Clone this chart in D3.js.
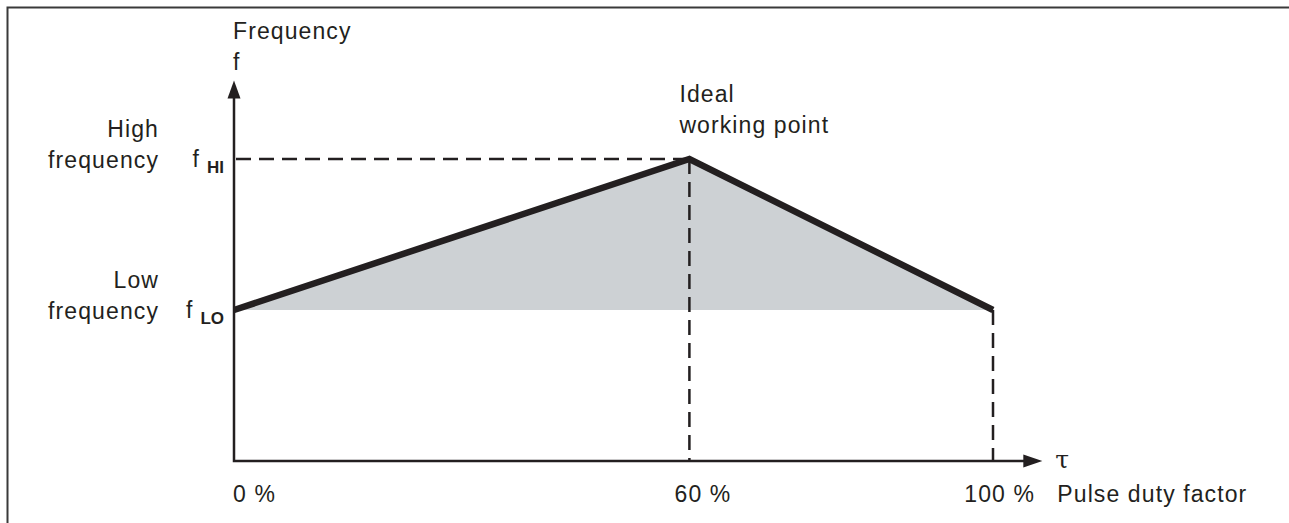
<!DOCTYPE html>
<html>
<head>
<meta charset="utf-8">
<script src="https://cdn.jsdelivr.net/npm/d3@7"></script>
<style>
  html, body { margin: 0; padding: 0; background: #fff; }
  svg text { font-family: "Liberation Sans", Arial, Helvetica, sans-serif; fill: #231f20; }
</style>
</head>
<body>
<div id="chart"></div>
<script>
// duty factor (%) and relative frequency level (1 = f_LO, 2 = f_HI)
const dutyPct = [0, 60, 100];
const freqLevel = [1, 2, 1];
const xTickValues = [0, 60, 100];
const xTickLabels = ['0 %', '60 %', '100 %'];
const levelValues = [1, 2];
const levelNames = [['Low', 'frequency'], ['High', 'frequency']];
const levelSubs = ['LO', 'HI'];
const dropLines = [60, 100]; // dashed verticals
const axisEnd = { x: 106.5, y: 2.52 };

(function(){
    const width = 1289, height = 523;
    const ink = '#231f20';
    const svg = d3.select('#chart').append('svg').attr('width', width).attr('height', height);

    // frame (left + top only)
    svg.append('path').attr('d', `M7.5,${height} V7.5 H${width}`)
        .attr('fill', 'none').attr('stroke', '#3a3a3a').attr('stroke-width', 2);

    const x = d3.scaleLinear().domain([0, 100]).range([234, 993]);
    const y = d3.scaleLinear().domain([0, 2]).range([461, 159]);

    const pts = dutyPct.map((d, i) => ({ t: d, f: freqLevel[i] }));
    const fLo = d3.min(freqLevel), fHi = d3.max(freqLevel);
    const peak = pts.find(p => p.f === fHi);

    // shaded area between curve and f_LO
    const area = d3.area().x(d => x(d.t)).y0(y(fLo)).y1(d => y(d.f));
    svg.append('path').datum(pts).attr('d', area).attr('fill', '#cdd1d4');

    // dashed guides
    const dash = '15,8';
    svg.append('line')
        .attr('x1', x(0) + 2).attr('x2', x(peak.t)).attr('y1', y(fHi)).attr('y2', y(fHi))
        .attr('stroke', ink).attr('stroke-width', 2.5).attr('stroke-dasharray', dash);
    dropLines.forEach(t => {
        const p = pts.find(q => q.t === t);
        svg.append('line')
            .attr('x1', x(t)).attr('x2', x(t)).attr('y1', y(p.f)).attr('y2', y(0))
            .attr('stroke', ink).attr('stroke-width', 2.5).attr('stroke-dasharray', dash);
    });

    // axes
    const axisG = svg.append('g');
    axisG.append('path')
        .attr('d', `M${x(0)},${y(axisEnd.y) + 12} V${y(0)} H${x(axisEnd.x) - 12}`)
        .attr('fill', 'none').attr('stroke', ink).attr('stroke-width', 2.5);
    const yt = y(axisEnd.y), xt = x(axisEnd.x);
    axisG.append('path')
        .attr('d', `M${x(0)},${yt} L${x(0) - 6.5},${yt + 18} L${x(0) + 6.5},${yt + 18} Z`)
        .attr('fill', ink);
    axisG.append('path')
        .attr('d', `M${xt},${y(0)} L${xt - 19},${y(0) - 6.5} L${xt - 19},${y(0) + 6.5} Z`)
        .attr('fill', ink);

    // main curve
    const line = d3.line().x(d => x(d.t)).y(d => y(d.f));
    svg.append('path').datum(pts).attr('d', line)
        .attr('fill', 'none').attr('stroke', ink).attr('stroke-width', 6.5)
        .attr('stroke-linejoin', 'miter');

    const fs = 23, ls = '1.1px';
    const txt = (t, tx, ty, anchor) => svg.append('text')
        .attr('x', tx).attr('y', ty).attr('text-anchor', anchor || 'start')
        .attr('font-size', fs).style('letter-spacing', ls).text(t);

    // y axis title
    txt('Frequency', x(0) - 1, 39);
    txt('f', x(0) - 1, 70);

    // level labels
    levelValues.forEach((v, i) => {
        txt(levelNames[i][0], 159, y(v) - 22, 'end');
        txt(levelNames[i][1], 159, y(v) + 9, 'end');
        const t = svg.append('text').attr('x', x(0) - 10).attr('y', y(v) + 8)
            .attr('text-anchor', 'end').style('font-size', fs + 'px');
        t.append('tspan').text('f');
        t.append('tspan').attr('dx', 8).attr('dy', 6)
            .style('font-size', '17px').style('font-weight', 'bold').text(levelSubs[i]);
    });

    // peak annotation
    txt('Ideal', x(peak.t) - 10, y(fHi) - 57);
    txt('working point', x(peak.t) - 10, y(fHi) - 26);

    // x tick labels
    xTickValues.forEach((v, i) => txt(xTickLabels[i], x(v) + 42, 502, 'end'));

    // x axis title
    svg.append('text').attr('x', xt + 13).attr('y', y(0) + 7)
        .attr('font-size', 25).style('font-family', '"DejaVu Serif", "Liberation Serif", serif').text('τ');
    txt('Pulse duty factor', xt + 15, 502);
})();
</script>
</body>
</html>
